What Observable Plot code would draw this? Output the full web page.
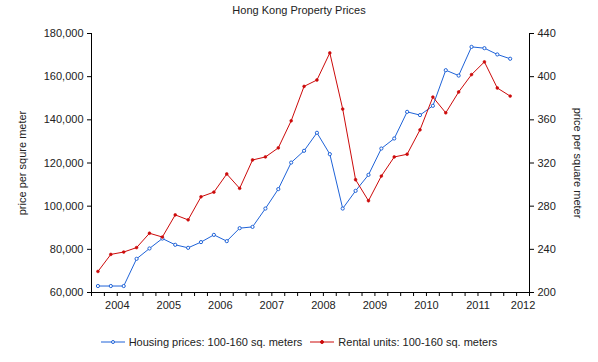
<!DOCTYPE html>
<html>
<head>
<meta charset="utf-8">
<script src="https://cdn.jsdelivr.net/npm/d3@7"></script>
<script src="https://cdn.jsdelivr.net/npm/@observablehq/plot@0.6"></script>
<style>
  body { margin: 0; background: #fff; font-family: "Liberation Sans", Arial, sans-serif; color: #222; }
  #title { width: 598px; height: 20px; line-height: 20px; text-align: center; font-size: 11px; }
  #legend { width: 598px; display: flex; justify-content: center; align-items: center; font-size: 11px; margin-top: 14px; gap: 8px; }
  #legend .item { display: flex; align-items: center; gap: 4px; }
</style>
</head>
<body>
<div id="title">Hong Kong Property Prices</div>
<div id="chart"></div>
<div id="legend"></div>
<script>
// Quarterly observations, 2004 Q1 .. 2012 Q1
const quarters = d3.range(33).map(i => 2004 + (i + 0.5) / 4);
const housing = [63000, 63000, 63000, 75600, 80400, 85000, 82100, 80700, 83350, 86700, 83800, 89800,
  90400, 98900, 107900, 120200, 125650, 134000, 124100, 98900, 107100, 114500, 126700, 131350,
  143700, 142200, 146500, 163000, 160500, 173800, 173200, 170300, 168300];
const rental = [219.5, 235.3, 237.5, 241.6, 254.9, 251.4, 271.9, 267.3, 288.7, 293, 309.8, 296.5,
  322.8, 325.6, 334, 359.1, 391, 396.9, 422, 370, 304.5, 285, 307.9, 325.6,
  328.1, 350.7, 381.1, 366.5, 385.8, 401.9, 413.7, 389.5, 382];
const leftTicks = [60000, 80000, 100000, 120000, 140000, 160000, 180000];
const rightTicks = [200, 240, 280, 320, 360, 400, 440];
const yearLabels = ["2004", "2005", "2006", "2007", "2008", "2009", "2010", "2011", "2012"];
const yearLabelPos = [2004.5, 2005.5, 2006.5, 2007.5, 2008.5, 2009.5, 2010.5, 2011.5, 2012.375];
const quarterTicks = d3.range(35).map(i => 2004 + i / 4);
const seriesNames = ["Housing prices: 100-160 sq. meters", "Rental units: 100-160 sq. meters"];
const axisTitles = ["price per squre meter", "price per square meter"];
const colors = ["#1f63d8", "#cc0a0a"];

// map right-axis values onto left-axis scale
const toLeft = r => 60000 + (r - 200) * (120000 / 240);
const toRight = v => 200 + (v - 60000) * (240 / 120000);

const housingData = quarters.map((q, i) => ({x: q, y: housing[i]}));
const rentalData = quarters.map((q, i) => ({x: q, y: toLeft(rental[i])}));

const chart = Plot.plot({
  width: 598,
  height: 302,
  marginTop: 13,
  marginBottom: 30,
  marginLeft: 91,
  marginRight: 69,
  style: {fontFamily: "'Liberation Sans', Arial, sans-serif", fontSize: "11px", color: "#222", background: "#fff"},
  x: {domain: [2004, 2012.5]},
  y: {domain: [60000, 180000]},
  marks: [
    Plot.axisX(quarterTicks, {tickSize: 4, tickFormat: () => "", stroke: "#000", strokeOpacity: 1, label: null}),
    Plot.axisX(yearLabelPos, {tickSize: 0, tickPadding: 9, tickFormat: (d, i) => yearLabels[i], label: null}),
    Plot.axisY(leftTicks, {anchor: "left", tickSize: 4, tickPadding: 4, tickFormat: d3.format(","),
      stroke: "#000", strokeOpacity: 1, label: null}),
    Plot.axisY(rightTicks.map(toLeft), {anchor: "right", tickSize: 4, tickPadding: 4,
      tickFormat: d => String(Math.round(toRight(d))), stroke: "#000", strokeOpacity: 1, label: null}),
    Plot.text([axisTitles[0]], {frameAnchor: "left", dx: -69, rotate: -90, textAnchor: "middle", text: d => d, fill: "#222", fontSize: 11}),
    Plot.text([axisTitles[1]], {frameAnchor: "right", dx: 48, rotate: 90, textAnchor: "middle", text: d => d, fill: "#222", fontSize: 11}),
    Plot.ruleY([60000], {stroke: "#000"}),
    Plot.ruleX([2004, 2012.5], {stroke: "#000"}),
    Plot.line(housingData, {x: "x", y: "y", stroke: colors[0], strokeWidth: 1}),
    Plot.dot(housingData, {x: "x", y: "y", r: 1.6, stroke: colors[0], fill: "#fff", strokeWidth: 1}),
    Plot.line(rentalData, {x: "x", y: "y", stroke: colors[1], strokeWidth: 1}),
    Plot.dot(rentalData, {x: "x", y: "y", r: 1.4, fill: colors[1], stroke: colors[1], strokeWidth: 0.6})
  ]
});
document.getElementById("chart").appendChild(chart);

const legend = document.getElementById("legend");
seriesNames.forEach((name, i) => {
  const item = document.createElement("div");
  item.className = "item";
  item.innerHTML = `<svg width="24" height="8"><line x1="0" y1="4" x2="24" y2="4" stroke="${colors[i]}" stroke-width="1"/><circle cx="12" cy="4" r="1.5" fill="${i ? colors[i] : '#fff'}" stroke="${colors[i]}"/></svg><span>${name}</span>`;
  legend.appendChild(item);
});
</script>
</body>
</html>
